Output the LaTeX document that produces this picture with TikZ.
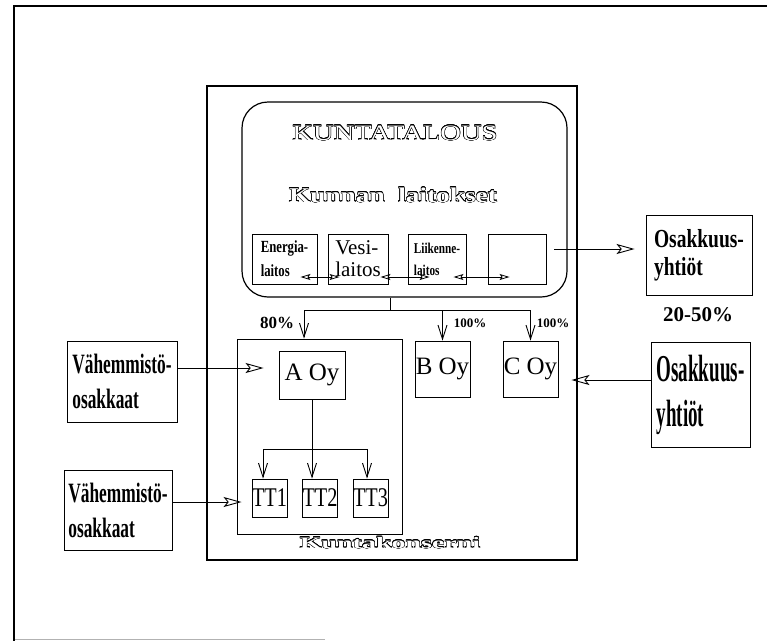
\documentclass[tikz,border=0pt]{standalone}
\usepackage{fontspec}
\setmainfont{Liberation Serif}
\newfontfamily\condfont{Liberation Serif}[FakeStretch=0.75]
\newfontfamily\thinfont{Liberation Serif}[FakeStretch=0.62]
\newfontfamily\slimfont{Liberation Serif}[FakeStretch=0.5]
\newfontfamily\widefont{Liberation Serif}[FakeStretch=1.3]
\newfontfamily\widerfont{Liberation Serif}[FakeStretch=1.75]
\usepackage{contour}
\contourlength{0.45pt}
\usetikzlibrary{arrows.meta}

\begin{document}
\begin{tikzpicture}[
        x=1pt, y=-1pt,
        every node/.style={align=center, inner sep=0pt},
        frame/.style={draw, line width=1.2pt},
        unit/.style={draw, line width=0.9pt, minimum height=50pt},
        firm/.style={draw, line width=0.9pt, font=\fontsize{25}{25}\selectfont},
        tt/.style={draw, line width=0.9pt, minimum width=35pt, minimum height=38pt,
            font=\condfont\fontsize{27}{27}\selectfont},
        owner/.style={draw, line width=0.9pt, align=left,
            font=\thinfont\bfseries\fontsize{28}{35}\selectfont},
        pct/.style={font=\bfseries\fontsize{13}{13}\selectfont},
        outl/.style={text=white},
        line/.style={line width=0.9pt},
        varr/.style={line width=0.9pt, -{Straight Barb[length=14pt,width=9pt]}},
        harr/.style={line width=0.9pt, -{Stealth[open,length=18pt,width=10pt,inset=4pt]}},
        darr/.style={line width=0.8pt,
            {Stealth[open,length=10pt,width=6pt,inset=2pt]}-{Stealth[open,length=10pt,width=6pt,inset=2pt]}}
    ]
    \useasboundingbox (0,0) rectangle (767,641);
    \draw[line width=2.4pt] (767,6) -- (14,6) -- (14,641);
    \draw[black!30, line width=0.8pt] (15,639) -- (325,639);

    \node[frame, minimum width=370pt, minimum height=474pt] (konserni) at (392,323) {};
    \node[outl, font=\widerfont\bfseries\fontsize{16}{16}\selectfont, anchor=base] (konsnimi) at (390,548)
        {\contour{black}{Kuntakonserni}};

    \node[frame, rounded corners=26pt, minimum width=325pt, minimum height=195pt] (kt) at (404.5,199.5) {};
    \node[outl, font=\widefont\fontsize{22}{22}\selectfont, anchor=base] (kttitle) at (395,140)
        {\contour{black}{KUNTATALOUS}};
    \node[outl, font=\widefont\bfseries\fontsize{21}{21}\selectfont, anchor=base] (laitokset) at (393,202)
        {\contour{black}{Kunnan\ \ laitokset}};

    \node[unit, minimum width=65pt, align=left, font=\condfont\bfseries\fontsize{17}{24}\selectfont] (ener) at (284.5,259)
        {Energia-\\laitos};
    \node[unit, minimum width=60pt, align=left, font=\fontsize{21}{22}\selectfont] (vesi) at (358,259)
        {Vesi-\\laitos};
    \node[unit, minimum width=58pt, align=left, font=\condfont\bfseries\fontsize{15}{22}\selectfont] (liik) at (437,259)
        {Liikenne-\\laitos};
    \node[unit, minimum width=58pt] (tyhja) at (517,259) {};

    \node[draw, line width=0.9pt, minimum width=106pt, minimum height=80pt, align=left,
        font=\condfont\bfseries\fontsize{26}{28}\selectfont] (osak1) at (699,255) {Osakkuus-\\yhtiöt};
    \node[font=\bfseries\fontsize{21}{21}\selectfont] (osakpct) at (698,315) {20-50\%};
    \node[draw, line width=0.9pt, minimum width=99pt, minimum height=105pt, align=left,
        font=\slimfont\bfseries\fontsize{38}{45}\selectfont] (osak2) at (700.5,394.5) {Osakkuus-\\yhtiöt};

    \node[frame, line width=0.9pt, minimum width=165pt, minimum height=195pt] (agrp) at (319.5,436.5) {};
    \node[firm, minimum width=66pt, minimum height=48pt] (aoy) at (312,375) {A Oy};
    \node[firm, minimum width=55pt, minimum height=56pt] (boy) at (442.5,369) {B Oy};
    \node[firm, minimum width=55pt, minimum height=56pt] (coy) at (530.5,369) {C Oy};

    \node[tt] (tt1) at (269.5,498) {TT1};
    \node[tt] (tt2) at (320,498) {TT2};
    \node[tt] (tt3) at (370.5,498) {TT3};

    \node[owner, minimum width=110pt, minimum height=81pt] (vah1) at (122,381.5) {Vähemmistö-\\osakkaat};
    \node[owner, minimum width=108pt, minimum height=80pt] (vah2) at (118,510) {Vähemmistö-\\osakkaat};

    \draw[darr, shorten <=-17pt, shorten >=-12pt] ([yshift=-18pt]ener.east) -- ([yshift=-18pt]vesi.west);
    \draw[darr, shorten <=-8pt, shorten >=-22pt] ([yshift=-18pt]vesi.east) -- ([yshift=-18pt]liik.west);
    \draw[darr, shorten <=-13pt, shorten >=-22pt] ([yshift=-18pt]liik.east) -- ([yshift=-18pt]tyhja.west);
    \draw[harr, shorten <=8pt, shorten >=11pt] ([yshift=10pt]tyhja.east) -- ([yshift=10pt]tyhja.east -| osak1.west);

    \coordinate (split) at (390,310);
    \draw[line] (split |- kt.south) -- (split);
    \draw[varr] (split) -| ([xshift=-15.5pt]agrp.north);
    \draw[varr] (split) -| (boy.north);
    \draw[varr] (split) -| (coy.north);
    \node[pct, font=\bfseries\fontsize{17}{17}\selectfont] (pcta) at (277,323) {80\%};
    \node[pct] (pctb) at (470,323) {100\%};
    \node[pct] (pctc) at (553,323) {100\%};

    \coordinate (ttsplit) at (312,449);
    \draw[varr] (aoy) -- (aoy |- tt2.north);
    \draw[varr] (ttsplit) -| ([xshift=-6.5pt]tt1.north);
    \draw[varr] (ttsplit) -| ([xshift=-3.5pt]tt3.north);

    \draw[harr, shorten >=15pt] ([yshift=13.5pt]vah1.east) -- ([yshift=13.5pt]vah1.east -| aoy.west);
    \draw[harr, shorten >=10pt] ([yshift=8pt]vah2.east) -- ([yshift=8pt]vah2.east -| tt1.west);
    \draw[harr, shorten >=13pt] ([yshift=14.5pt]osak2.west) -- ([yshift=14.5pt]osak2.west -| coy.east);
\end{tikzpicture}
\end{document}
